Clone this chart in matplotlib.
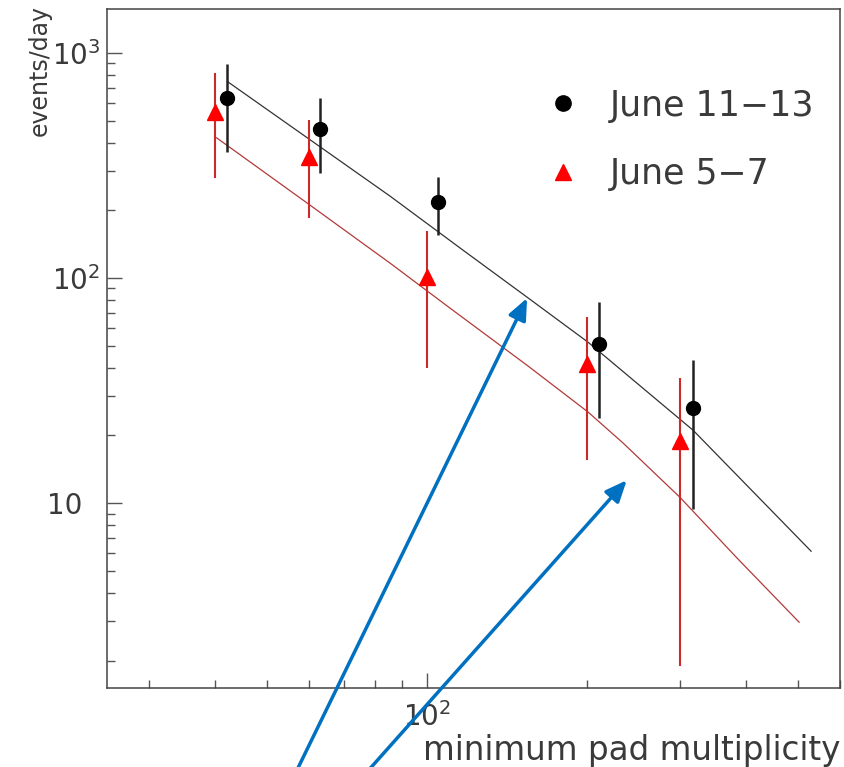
import matplotlib
matplotlib.use('Agg')
import matplotlib.pyplot as plt
from matplotlib.lines import Line2D
from matplotlib.ticker import FixedLocator, FixedFormatter, LogLocator, NullFormatter

# June 11-13 (black circles)
x_1113 = [42, 63, 105, 211, 317]
y_1113 = [630, 462, 218, 51, 26.4]
e_1113 = [265, 168, 63, 27, 17]

# June 5-7 (red triangles)
x_0507 = [40, 60, 100, 200, 300]
y_0507 = [548, 345, 101, 41.5, 18.9]
e_0507 = [270, 160, 61, 26, 17]

# fit curves
fit_1113_x = [42.2, 85.3, 117.0, 154.5, 201.3, 317.3, 529.3]
fit_1113_y = [745.6, 231.4, 133.2, 82.3, 51.9, 21.1, 6.12]
fit_0507_x = [40.2, 60.3, 85.3, 110.6, 154.5, 201.3, 234.3, 300.0, 384.1, 502.5]
fit_0507_y = [420.4, 211.0, 116.6, 73.6, 41.0, 25.4, 18.5, 10.6, 5.70, 2.96]

labels = ['June 11\u221213', 'June 5\u22127']
ytick_vals = [10, 100, 1000]
ytick_labels = ['10  ', '$10^{2}$', '$10^{3}$']

# arrow tips (data) and tails (figure fraction)
arrow_tips = [(154.5, 81.5), (238.0, 12.65)]
arrow_tails = [(0.351, -0.005), (0.4355, -0.005)]

plt.rcParams['font.family'] = ['DejaVu Sans']
plt.rcParams['mathtext.default'] = 'regular'
txt = '#3a3a3a'

fig = plt.figure(figsize=(8.45, 7.67), dpi=100)
ax = fig.add_axes([0.1266, 0.103, 0.8675, 0.8853])
ax.set_xscale('log')
ax.set_yscale('log')
ax.set_xlim(25, 600)
ax.set_ylim(1.51, 1570)

ax.plot(fit_1113_x, fit_1113_y, color='#333333', lw=0.9)
ax.plot(fit_0507_x, fit_0507_y, color='#b23a3a', lw=0.9)

ax.errorbar(x_0507, y_0507, yerr=e_0507, fmt='^', color='red', ms=11,
            ecolor='#cc2a2a', elinewidth=1.5, capsize=0)
ax.errorbar(x_1113, y_1113, yerr=e_1113, fmt='o', color='black', ms=10,
            ecolor='#222222', elinewidth=1.8, capsize=0)

handles = [Line2D([], [], marker='o', ls='none', color='black', ms=11),
           Line2D([], [], marker='^', ls='none', color='red', ms=12)]
ax.legend(handles, labels, frameon=False, loc='upper left',
          bbox_to_anchor=(0.598, 0.8827), borderaxespad=0, borderpad=0,
          fontsize=25, handlelength=1.0, handletextpad=0.85,
          labelspacing=0.99, labelcolor=txt)

ax.yaxis.set_major_locator(FixedLocator(ytick_vals))
ax.yaxis.set_major_formatter(FixedFormatter(ytick_labels))
ax.yaxis.set_minor_locator(LogLocator(base=10, subs=range(2, 10)))
ax.yaxis.set_minor_formatter(NullFormatter())
ax.xaxis.set_major_locator(FixedLocator([100]))
ax.xaxis.set_major_formatter(FixedFormatter(['$10^{2}$']))
ax.xaxis.set_minor_locator(LogLocator(base=10, subs=range(2, 10)))
ax.xaxis.set_minor_formatter(NullFormatter())

ax.tick_params(which='both', direction='in', color='#555555', width=1,
               labelcolor=txt, labelsize=20)
ax.tick_params(which='major', length=10.5)
ax.tick_params(which='minor', length=5.5)
ax.tick_params(axis='y', pad=5)
ax.tick_params(axis='x', pad=10)

for s in ax.spines.values():
    s.set_color('#444444')
    s.set_linewidth(1.1)

ax.set_ylabel('events/day', fontsize=17, color=txt, loc='top')
ax.yaxis.set_label_coords(-0.076, 1.006)
ax.set_xlabel('minimum pad multiplicity', fontsize=23.5, color=txt, loc='right')
ax.xaxis.set_label_coords(1.0, -0.068)

for tip, tail in zip(arrow_tips, arrow_tails):
    ax.annotate('', xy=tip, xycoords='data', xytext=tail,
                textcoords='figure fraction', annotation_clip=False,
                arrowprops=dict(arrowstyle='-|>,head_length=0.65,head_width=0.28',
                                mutation_scale=20, color='#0070c0', lw=2.5,
                                shrinkA=0, shrinkB=0))

fig.savefig('out.png', dpi=100)
